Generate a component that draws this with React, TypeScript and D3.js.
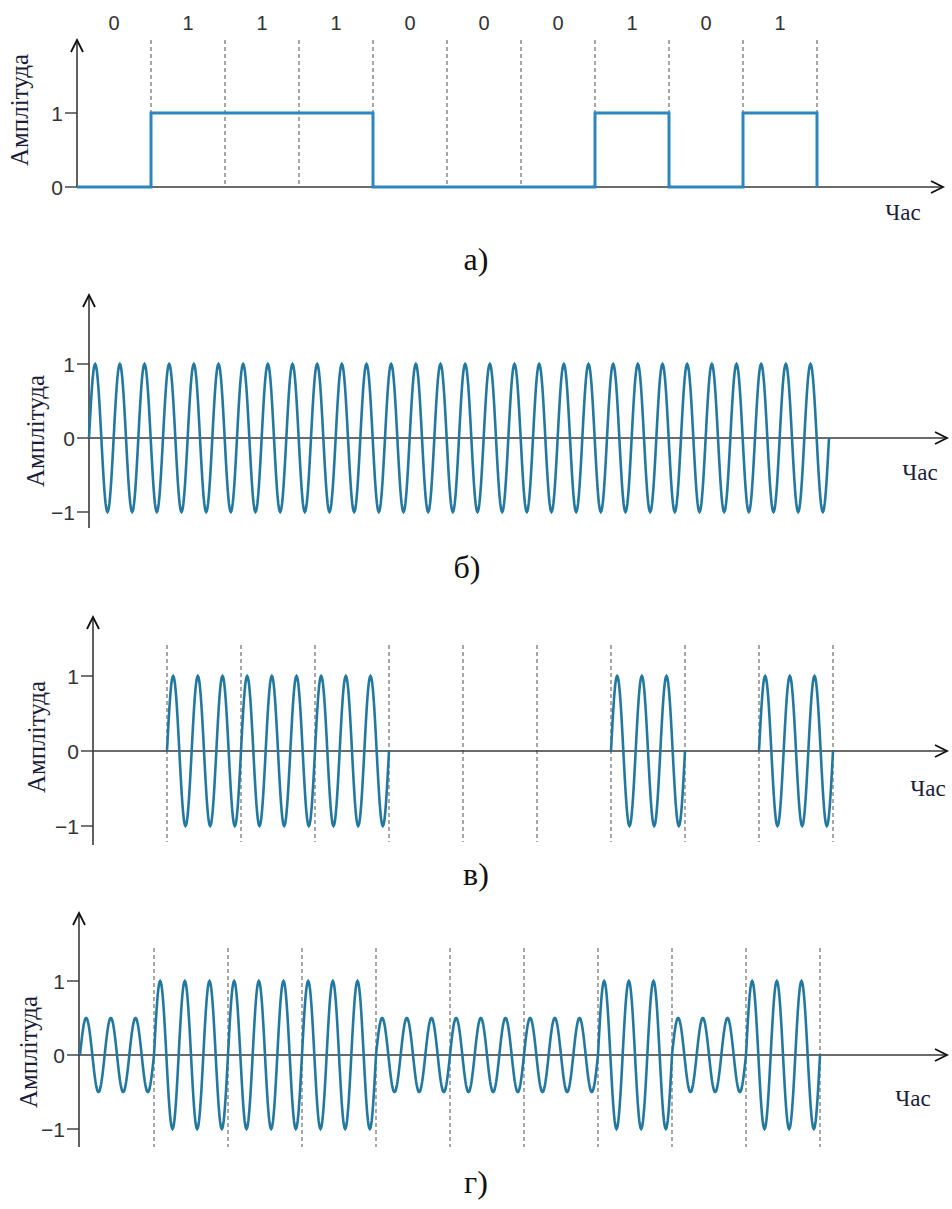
import React from "react";
import * as d3 from "d3";

// bit sequence and labels
const bits = [0, 1, 1, 1, 0, 0, 0, 1, 0, 1];
const bitLabels = ["0", "1", "1", "1", "0", "0", "0", "1", "0", "1"];
const cyclesPerBit = 3;
// amplitude of carrier for bit 0 / bit 1
const carrierLevels = [1, 1];
const askLevels = [0, 1];
const twoLevelAsk = [0.5, 1];

const ticksDigital = [0, 1];
const ticksWave = [-1, 0, 1];
const panelLetters = ["а)", "б)", "в)", "г)"];
const yTitle = "Амплітуда";
const xTitle = "Час";

const W = 952;
const H = 1209;
const STEP_COLOR = "#2c86bf";
const WAVE_COLOR = "#23789f";
const AXIS_COLOR = "#3a3a3a";
const SERIF = "Liberation Serif";
const SANS = "Liberation Sans";

type Layout = {
  axisX: number;
  x0: number;
  y0: number;
  unit: number;
  top: number;
  bottom: number;
  dashTop: number;
  dashBottom: number;
  xEnd: number;
  labelX: number;
  labelY: number;
  timeX: number;
  timeY: number;
  letterX: number;
  letterY: number;
};

const layouts: Layout[] = [
  { axisX: 77, x0: 77, y0: 187, unit: 74, top: 40, bottom: 187, dashTop: 40, dashBottom: 187, xEnd: 943, labelX: 19, labelY: 110, timeX: 903, timeY: 220, letterX: 476, letterY: 270 },
  { axisX: 89, x0: 89, y0: 438, unit: 74, top: 295, bottom: 528, dashTop: 0, dashBottom: 0, xEnd: 947, labelX: 35, labelY: 431, timeX: 920, timeY: 480, letterX: 467, letterY: 578 },
  { axisX: 93, x0: 93, y0: 751, unit: 75, top: 617, bottom: 845, dashTop: 645, dashBottom: 842, xEnd: 947, labelX: 36, labelY: 737, timeX: 928, timeY: 796, letterX: 476, letterY: 885 },
  { axisX: 79, x0: 80, y0: 1055, unit: 74, top: 913, bottom: 1147, dashTop: 948, dashBottom: 1147, xEnd: 947, labelX: 28, labelY: 1052, timeX: 913, timeY: 1106, letterX: 476, letterY: 1193 },
];

const scalesFor = (l: Layout) => {
  const x = d3.scaleLinear().domain([0, bits.length]).range([l.x0, l.x0 + 740]);
  const y = d3.scaleLinear().domain([-1, 1]).range([l.y0 + l.unit, l.y0 - l.unit]);
  return { x, y };
};

// modulated carrier segments: one array of [t, v] per run of bits, skipping zero-amplitude bits
const carrierSegments = (levels: number[]) => {
  const segs: [number, number][][] = [];
  let cur: [number, number][] | null = null;
  bits.forEach((b, i) => {
    const a = levels[b];
    if (a === 0) {
      cur = null;
      return;
    }
    if (!cur) {
      cur = [];
      segs.push(cur);
    }
    d3.range(0, 121).forEach((k) => {
      const t = i + k / 120;
      cur!.push([t, a * Math.sin(2 * Math.PI * cyclesPerBit * t)]);
    });
  });
  return segs;
};

const Axes = ({ l, ticks }: { l: Layout; ticks: number[] }) => {
  const { y } = scalesFor(l);
  const tickY = ticks.map((t) => (t === 0 ? l.y0 : y(t)));
  return (
    <g>
      <line x1={l.axisX} y1={l.bottom} x2={l.axisX} y2={l.top} stroke={AXIS_COLOR} strokeWidth={1.6} />
      <path
        d={`M${l.axisX - 6},${l.top + 12}L${l.axisX},${l.top}L${l.axisX + 6},${l.top + 12}`}
        fill="none"
        stroke="#111"
        strokeWidth={1.8}
      />
      <line x1={l.axisX} y1={l.y0} x2={l.xEnd} y2={l.y0} stroke={AXIS_COLOR} strokeWidth={1.6} />
      <path
        d={`M${l.xEnd - 12},${l.y0 - 6}L${l.xEnd},${l.y0}L${l.xEnd - 12},${l.y0 + 6}`}
        fill="none"
        stroke="#111"
        strokeWidth={1.8}
      />
      {ticks.map((t, i) => (
        <g key={t}>
          <line x1={l.axisX - 12} x2={l.axisX} y1={tickY[i]} y2={tickY[i]} stroke={AXIS_COLOR} strokeWidth={1.4} />
          <text x={l.axisX - 14} y={tickY[i]} dy="0.36em" textAnchor="end" fontFamily={SANS} fontSize={21} fill="#333">
            {t < 0 ? `\u2212${Math.abs(t)}` : t}
          </text>
        </g>
      ))}
      <text
        transform={`translate(${l.labelX},${l.labelY}) rotate(-90)`}
        textAnchor="middle"
        dy="0.35em"
        fontFamily={SERIF}
        fontSize={25}
        fill="#1c1c3a"
      >
        {yTitle}
      </text>
      <text x={l.timeX} y={l.timeY} textAnchor="middle" fontFamily={SERIF} fontSize={23} fill="#1c1c3a">
        {xTitle}
      </text>
    </g>
  );
};

const Dashes = ({ l }: { l: Layout }) => {
  const { x } = scalesFor(l);
  return (
    <g>
      {d3.range(1, bits.length + 1).map((i) => (
        <line
          key={i}
          x1={x(i)}
          x2={x(i)}
          y1={l.dashTop}
          y2={l.dashBottom}
          stroke="#6e6e6e"
          strokeWidth={1.2}
          strokeDasharray="4,3"
        />
      ))}
    </g>
  );
};

const WavePanel = ({ l, levels, dashed }: { l: Layout; levels: number[]; dashed: boolean }) => {
  const { x, y } = scalesFor(l);
  const line = d3
    .line<[number, number]>()
    .x((d) => x(d[0]))
    .y((d) => y(d[1]));
  return (
    <g>
      {dashed && <Dashes l={l} />}
      <Axes l={l} ticks={ticksWave} />
      {carrierSegments(levels).map((s, i) => (
        <path key={i} d={line(s) || ""} fill="none" stroke={WAVE_COLOR} strokeWidth={2.6} />
      ))}
    </g>
  );
};

const DigitalPanel = ({ l }: { l: Layout }) => {
  const { x, y } = scalesFor(l);
  const pts: [number, number][] = bits.map((b, i) => [i, b]);
  pts.push([bits.length, bits[bits.length - 1]]);
  pts.push([bits.length, 0]);
  const line = d3
    .line<[number, number]>()
    .x((d) => x(d[0]))
    .y((d) => (d[1] === 0 ? l.y0 : y(d[1])))
    .curve(d3.curveStepAfter);
  return (
    <g>
      <Dashes l={l} />
      <Axes l={l} ticks={ticksDigital} />
      <path d={line(pts) || ""} fill="none" stroke={STEP_COLOR} strokeWidth={3} />
      {bitLabels.map((b, i) => (
        <text key={i} x={x(i + 0.5)} y={30} textAnchor="middle" fontFamily={SANS} fontSize={20} fill="#333">
          {b}
        </text>
      ))}
    </g>
  );
};

export default function App() {
  return (
    <svg
      width={W}
      height={H}
      viewBox={`0 0 ${W} ${H}`}
      style={{ position: "absolute", left: 0, top: 0, background: "#fff" }}
    >
      <rect width={W} height={H} fill="#fff" />
      <DigitalPanel l={layouts[0]} />
      <WavePanel l={layouts[1]} levels={carrierLevels} dashed={false} />
      <WavePanel l={layouts[2]} levels={askLevels} dashed={true} />
      <WavePanel l={layouts[3]} levels={twoLevelAsk} dashed={true} />
      {layouts.map((l, i) => (
        <text key={i} x={l.letterX} y={l.letterY} textAnchor="middle" fontFamily={SERIF} fontSize={32} fill="#111">
          {panelLetters[i]}
        </text>
      ))}
    </svg>
  );
}
